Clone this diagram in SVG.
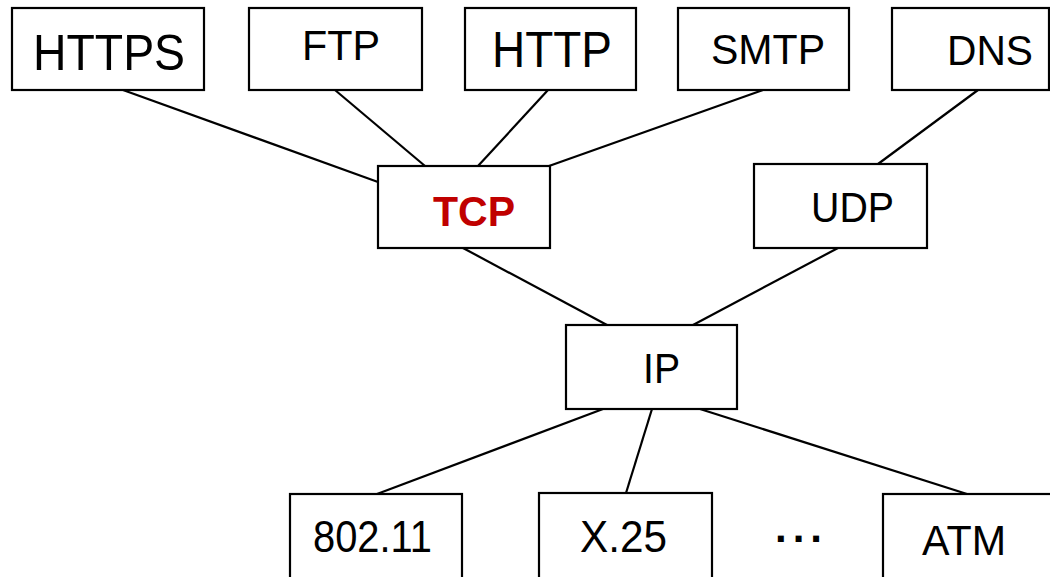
<svg xmlns="http://www.w3.org/2000/svg" width="1050" height="577" viewBox="0 0 1050 577">
<style>
.box{fill:#fff;stroke:#000;stroke-width:2.2}
.t{font-family:"Liberation Sans",Arial,sans-serif;font-size:42px;fill:#000}
.big{font-size:50px}
.low{font-size:44px}
.tcp{font-weight:bold;fill:#c00000}
.conn line{stroke:#000;stroke-width:2.2}
</style>
<rect width="1050" height="577" fill="#fff"/>
<g id="connectors" class="conn">
<line x1="123" y1="90" x2="378" y2="182"/>
<line x1="335" y1="90" x2="425" y2="166"/>
<line x1="548" y1="90" x2="478" y2="166"/>
<line x1="763" y1="90" x2="549" y2="166"/>
<line x1="978" y1="90" x2="878" y2="164"/>
<line x1="463" y1="248" x2="607" y2="325"/>
<line x1="838" y1="248" x2="693" y2="325"/>
<line x1="603" y1="409" x2="377" y2="494"/>
<line x1="652" y1="409" x2="626" y2="493"/>
<line x1="700" y1="409" x2="967" y2="494"/>
</g>
<g id="https"><rect class="box" x="12" y="8" width="192" height="82"/><text class="t big" x="33" y="70" textLength="152" lengthAdjust="spacingAndGlyphs">HTTPS</text></g>
<g id="ftp"><rect class="box" x="249" y="8" width="173" height="82"/><text class="t" x="302" y="60" textLength="78" lengthAdjust="spacingAndGlyphs">FTP</text></g>
<g id="http"><rect class="box" x="465" y="8" width="171" height="82"/><text class="t big" x="492" y="67" textLength="120" lengthAdjust="spacingAndGlyphs">HTTP</text></g>
<g id="smtp"><rect class="box" x="678" y="8" width="171" height="82"/><text class="t" x="711" y="64" textLength="114" lengthAdjust="spacingAndGlyphs">SMTP</text></g>
<g id="dns"><rect class="box" x="892" y="8" width="157" height="82"/><text class="t" x="947" y="65" textLength="86" lengthAdjust="spacingAndGlyphs">DNS</text></g>
<g id="tcp"><rect class="box" x="378" y="166" width="172" height="82"/><text class="t tcp" x="433" y="226" textLength="82" lengthAdjust="spacingAndGlyphs">TCP</text></g>
<g id="udp"><rect class="box" x="754" y="164" width="173" height="84"/><text class="t" x="811" y="222" textLength="83" lengthAdjust="spacingAndGlyphs">UDP</text></g>
<g id="ip"><rect class="box" x="566" y="325" width="171" height="84"/><text class="t" x="643" y="383" textLength="37" lengthAdjust="spacingAndGlyphs">IP</text></g>
<g id="n80211"><rect class="box" x="290" y="494" width="172" height="85"/><text class="t low" x="313" y="552" textLength="119" lengthAdjust="spacingAndGlyphs">802.11</text></g>
<g id="x25"><rect class="box" x="539" y="493" width="173" height="86"/><text class="t low" x="580" y="552" textLength="87" lengthAdjust="spacingAndGlyphs">X.25</text></g>
<g id="dots"><text class="t" x="775" y="542" font-size="52" font-weight="bold" letter-spacing="6">...</text></g>
<g id="atm"><rect class="box" x="883" y="494" width="170" height="85"/><text class="t" x="922" y="555" textLength="84" lengthAdjust="spacingAndGlyphs">ATM</text></g>
</svg>
